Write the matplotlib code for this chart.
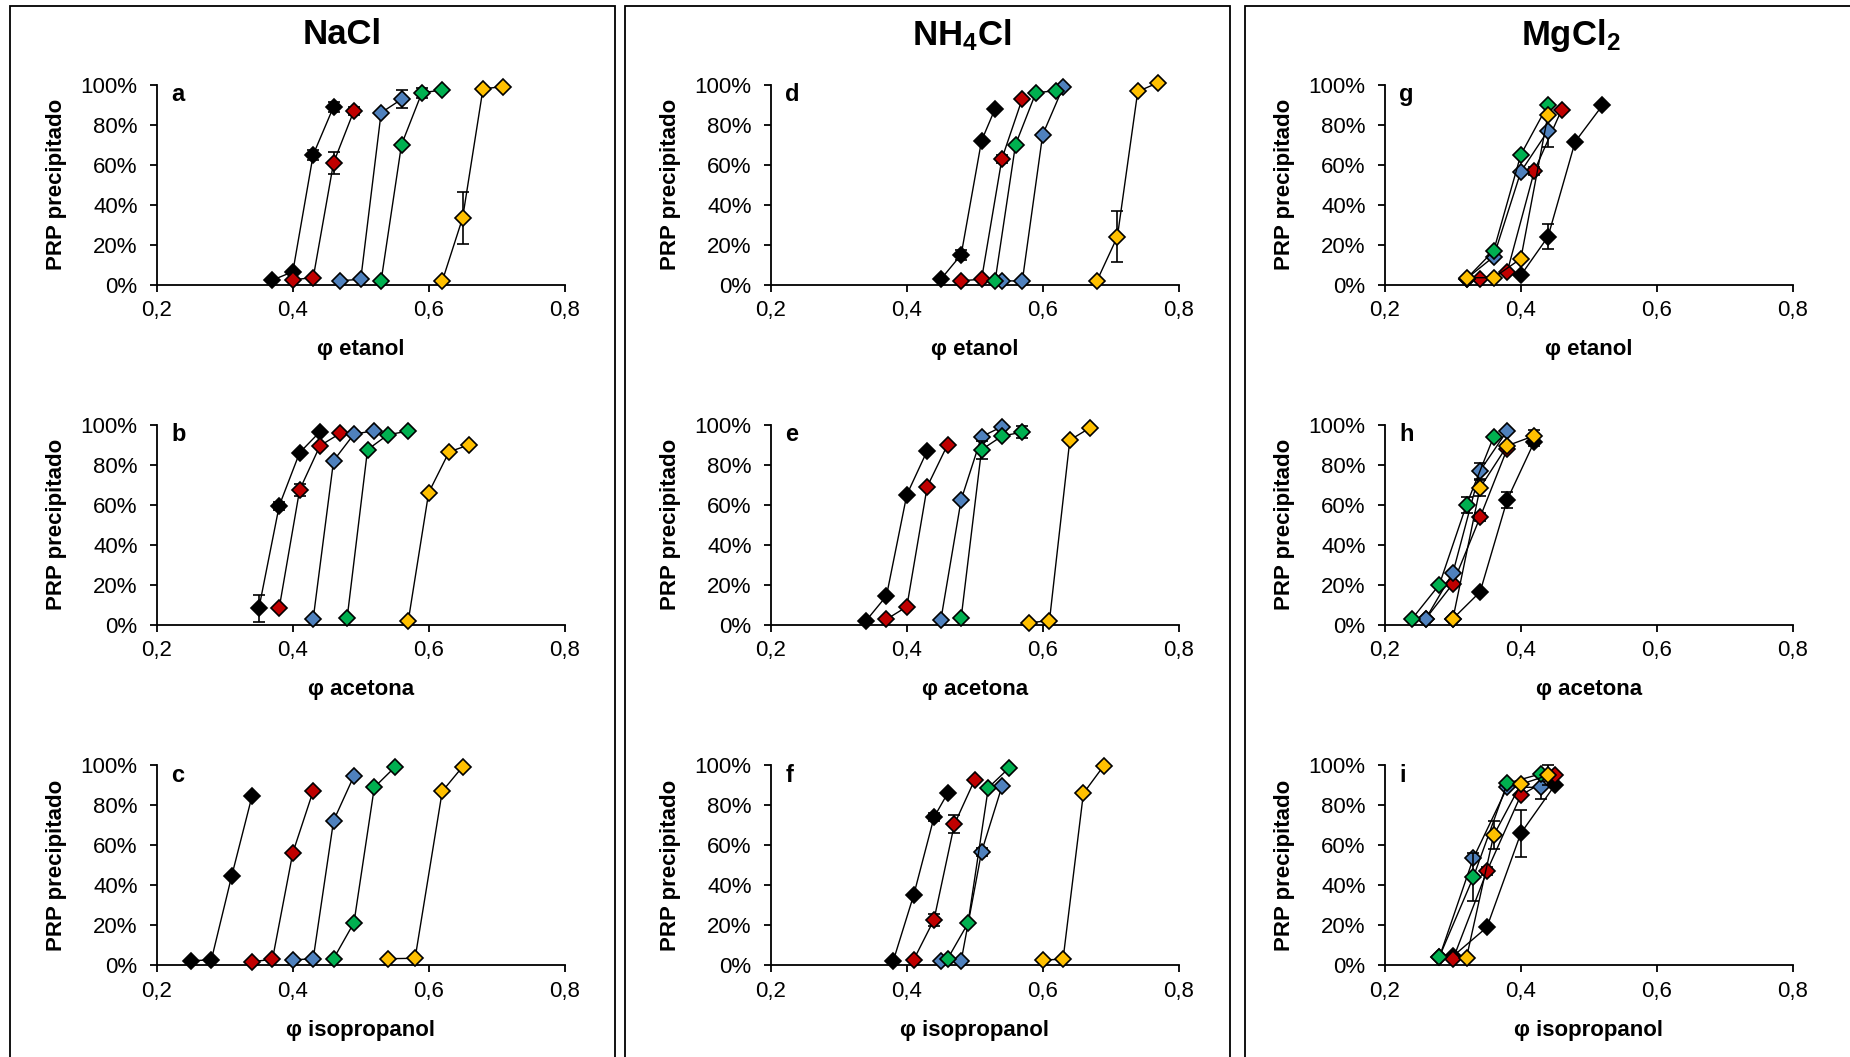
import matplotlib
matplotlib.use("Agg")
import matplotlib.pyplot as plt
from matplotlib.patches import Rectangle
from matplotlib.ticker import FuncFormatter

plt.rcParams['font.family'] = ['Liberation Sans', 'DejaVu Sans']
plt.rcParams['mathtext.default'] = 'regular'

# ---------------------------------------------------------------------------
# Data: PRP precipitated (%) versus solvent volume fraction.
# Each panel holds five series (order: black, red, blue, green, yellow).
# ---------------------------------------------------------------------------
salts = ["NaCl", "NH$_4$Cl", "MgCl$_2$"]
solvents = ["etanol", "acetona", "isopropanol"]
panel_letters = ["a", "b", "c", "d", "e", "f", "g", "h", "i"]
series_colors = ["#000000", "#C00000", "#4F81BD", "#00B050", "#FFC000"]
x_ticks = [0.2, 0.4, 0.6, 0.8]
y_ticks = [0, 20, 40, 60, 80, 100]

# NaCl / etanol
a_x = [[0.37, 0.40, 0.43, 0.46], [0.40, 0.43, 0.46, 0.49], [0.47, 0.50, 0.53, 0.56],
       [0.53, 0.56, 0.59, 0.62], [0.62, 0.65, 0.68, 0.71]]
a_y = [[2.3, 6.5, 65, 89], [2.5, 3.5, 61, 87], [2, 2.7, 86, 92.7],
       [2, 70, 96, 97.3], [1.8, 33.4, 98, 99]]
a_err = [[0, 0, 2.5, 2.5], [0, 0, 5.5, 2], [0, 0, 0, 4.6],
         [0, 0, 2.5, 0], [0, 12.9, 0, 0]]

# NaCl / acetona
b_x = [[0.35, 0.38, 0.41, 0.44], [0.38, 0.41, 0.44, 0.47], [0.43, 0.46, 0.49, 0.52],
       [0.48, 0.51, 0.54, 0.57], [0.57, 0.60, 0.63, 0.66]]
b_y = [[8.2, 59.5, 86, 96.5], [8.5, 67.4, 89.5, 95.7], [3, 82, 95.3, 97],
       [3.5, 87.5, 95, 96.8], [2, 66, 86.4, 90]]
b_err = [[6.9, 2, 0, 0], [0, 3, 0, 0], [0, 0, 0, 0],
         [0, 0, 0, 0], [0, 0, 0, 0]]

# NaCl / isopropanol
c_x = [[0.25, 0.28, 0.31, 0.34], [0.34, 0.37, 0.40, 0.43], [0.40, 0.43, 0.46, 0.49],
       [0.46, 0.49, 0.52, 0.55], [0.54, 0.58, 0.62, 0.65]]
c_y = [[2.3, 2.7, 44.7, 84.7], [1.8, 3, 56.3, 87.2], [2.7, 3.3, 72.3, 94.7],
       [3.3, 21.3, 89, 99], [3.3, 3.5, 87, 99.3]]
c_err = [[0, 0, 0, 0], [0, 0, 0, 0], [0, 0, 0, 0],
         [0, 0, 0, 0], [0, 0, 0, 0]]

# NH4Cl / etanol
d_x = [[0.45, 0.48, 0.51, 0.53], [0.48, 0.51, 0.54, 0.57], [0.54, 0.57, 0.60, 0.63],
       [0.53, 0.56, 0.59, 0.62], [0.68, 0.71, 0.74, 0.77]]
d_y = [[2.7, 15, 72, 88], [2, 2.7, 63, 93], [2, 1.8, 75, 98.7],
       [2, 70, 96, 97], [2, 24, 96.6, 101]]
d_err = [[0, 2.5, 0, 0], [0, 0, 2, 0], [0, 0, 0, 0],
         [0, 0, 0, 0], [0, 12.6, 0, 0]]

# NH4Cl / acetona
e_x = [[0.34, 0.37, 0.40, 0.43], [0.37, 0.40, 0.43, 0.46], [0.45, 0.48, 0.51, 0.54],
       [0.48, 0.51, 0.54, 0.57], [0.58, 0.61, 0.64, 0.67]]
e_y = [[2, 14.4, 65, 87], [2.7, 9, 69, 90], [2.3, 62.5, 94, 99],
       [3.5, 87.5, 94.3, 96.3], [1, 2, 92.3, 98.5]]
e_err = [[0, 0, 0, 0], [0, 0, 0, 0], [0, 0, 0, 0],
         [0, 4.5, 0, 3], [0, 0, 0, 0]]

# NH4Cl / isopropanol
f_x = [[0.38, 0.41, 0.44, 0.46], [0.41, 0.44, 0.47, 0.50], [0.45, 0.48, 0.51, 0.54],
       [0.46, 0.49, 0.52, 0.55], [0.60, 0.63, 0.66, 0.69]]
f_y = [[2.2, 35, 74, 86], [2.7, 22.8, 70.5, 92.8], [2, 2.3, 56.7, 89.4],
       [3.2, 21, 88.8, 98.5], [2.7, 3, 86, 99.8]]
f_err = [[0, 0, 2, 0], [0, 3, 4.5, 0], [0, 0, 2, 0],
         [0, 0, 0, 0], [0, 0, 0, 0]]

# MgCl2 / etanol
g_x = [[0.40, 0.44, 0.48, 0.52], [0.34, 0.38, 0.42, 0.46], [0.32, 0.36, 0.40, 0.44],
       [0.32, 0.36, 0.40, 0.44], [0.32, 0.36, 0.40, 0.44]]
g_y = [[4.7, 24, 71.5, 89.6], [3, 6.5, 57, 87.4], [3, 14, 56.5, 77],
       [3, 17, 65, 90], [3.5, 3.5, 13, 85]]
g_err = [[0, 6.4, 0, 0], [0, 0, 2, 0], [0, 0, 0, 8],
         [0, 0, 0, 0], [0, 0, 0, 0]]

# MgCl2 / acetona
h_x = [[0.30, 0.34, 0.38, 0.42], [0.26, 0.30, 0.34, 0.38], [0.26, 0.30, 0.34, 0.38],
       [0.24, 0.28, 0.32, 0.36], [0.30, 0.34, 0.38, 0.42]]
h_y = [[3, 16.4, 62.5, 91.6], [3, 20.5, 53.7, 88], [3, 26, 77, 97],
       [3, 20, 60, 94], [3, 68.5, 89.5, 94.5]]
h_err = [[0, 0, 4, 2], [0, 0, 2, 0], [0, 0, 4, 0],
         [0, 0, 4, 0], [0, 4, 0, 3]]

# MgCl2 / isopropanol
i_x = [[0.30, 0.35, 0.40, 0.45], [0.30, 0.35, 0.40, 0.45], [0.28, 0.33, 0.38, 0.43],
       [0.28, 0.33, 0.38, 0.43], [0.32, 0.36, 0.40, 0.44]]
i_y = [[4.5, 19, 66, 90], [3, 47, 85, 95], [4, 53.5, 89, 89],
       [4.2, 44, 91, 95.8], [3.8, 65, 90.5, 95]]
i_err = [[0, 0, 11.7, 0], [0, 2, 0, 0], [0, 0, 0, 6],
         [0, 12, 0, 0], [0, 7, 0, 5]]

panels = [(a_x, a_y, a_err), (b_x, b_y, b_err), (c_x, c_y, c_err),
          (d_x, d_y, d_err), (e_x, e_y, e_err), (f_x, f_y, f_err),
          (g_x, g_y, g_err), (h_x, h_y, h_err), (i_x, i_y, i_err)]

# ---------------------------------------------------------------------------
# Figure layout (pixel geometry at 100 dpi)
# ---------------------------------------------------------------------------
W, H = 1850, 1057
fig = plt.figure(figsize=(W / 100, H / 100), dpi=100)

col_left = [157, 771, 1385]
row_top = [84.7, 424.7, 765.3]
ax_w, ax_h = 407.5, 200
title_x = [342, 962, 1571]
box_edges = [(9.5, 615), (624.5, 1230), (1244.5, 1870)]


def rect(left, top, w, h):
    return [left / W, 1 - (top + h) / H, w / W, h / H]


# column frames
for x0, x1 in box_edges:
    fig.patches.append(Rectangle((x0 / W, -0.05), (x1 - x0) / W, 1.05 - 5.5 / H,
                                 transform=fig.transFigure, fill=False,
                                 edgecolor="black", linewidth=1.3))

for col, salt in enumerate(salts):
    fig.text(title_x[col] / W, 1 - 35 / H, salt, ha="center", va="center",
             fontsize=25, fontweight="bold")
    for row, solvent in enumerate(solvents):
        k = col * 3 + row
        xs, ys, errs = panels[k]
        ax = fig.add_axes(rect(col_left[col], row_top[row], ax_w, ax_h))
        for s, color in enumerate(series_colors):
            ax.errorbar(xs[s], ys[s], yerr=errs[s], fmt="none", ecolor="black",
                        elinewidth=1.2, capsize=4, capthick=1.2, zorder=2 + s * 2,
                        clip_on=False)
            ax.plot(xs[s], ys[s], "-", color="black", lw=1.0, marker="D", ms=8,
                    mfc=color, mec="black", mew=1.2, zorder=3 + s * 2, clip_on=False)
        ax.set_xlim(0.2, 0.8)
        ax.set_ylim(0, 100)
        ax.set_xticks(x_ticks)
        ax.set_yticks(y_ticks)
        ax.xaxis.set_major_formatter(FuncFormatter(lambda v, p: f"{v:.1f}".replace(".", ",")))
        ax.yaxis.set_major_formatter(FuncFormatter(lambda v, p: f"{v:.0f}%"))
        for side in ("top", "right"):
            ax.spines[side].set_visible(False)
        for side in ("left", "bottom"):
            ax.spines[side].set_linewidth(1.3)
        ax.tick_params(axis="both", direction="out", length=5, width=1.3,
                       labelsize=16)
        ax.tick_params(axis="y", pad=9)
        ax.tick_params(axis="x", pad=6)
        ax.set_ylabel("PRP precipitado", fontsize=16, fontweight="bold", labelpad=10)
        ax.set_xlabel("φ " + solvent, fontsize=16, fontweight="bold", labelpad=13)
        ax.text(0.035, 0.95, panel_letters[k], transform=ax.transAxes,
                fontsize=17, fontweight="bold", ha="left", va="center")

fig.savefig("out.png", dpi=100)
